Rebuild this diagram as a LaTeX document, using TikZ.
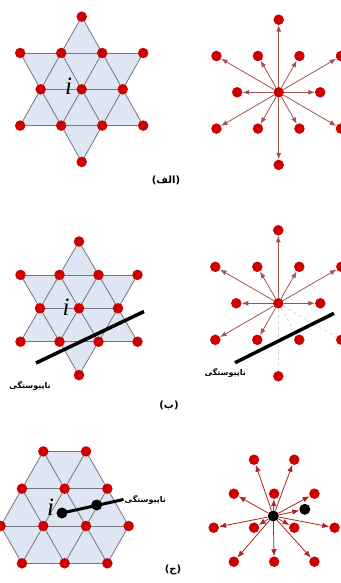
\documentclass[tikz,border=0pt]{standalone}
\usepackage{fontspec}
\usepackage{tikz}
\usetikzlibrary{arrows.meta, backgrounds, positioning}
\newfontfamily\farsi[Script=Arabic]{DejaVu Sans}
\newfontfamily\timesit{Liberation Serif}
\TeXXeTstate=1
\definecolor{sitered}{RGB}{204,0,0}
\definecolor{latfill}{RGB}{222,229,243}
\definecolor{latedge}{RGB}{118,118,128}
\definecolor{hopbrown}{RGB}{158,82,82}
\definecolor{hopred}{RGB}{172,38,38}

\begin{document}
\begin{tikzpicture}[x=1pt, y=-1pt,
    site/.style={circle, fill=sitered, inner sep=0pt, minimum size=10.5pt},
    bsite/.style={circle, fill=black, inner sep=0pt, minimum size=11pt},
    bond/.style={latedge, line width=0.8pt},
    hop/.style={-{Latex[length=6.5pt,width=5pt]}, hopbrown, line width=0.8pt},
    hopc/.style={-{Latex[length=7pt,width=5.5pt]}, hopred, line width=0.8pt},
    lost/.style={gray!35, dashed, line width=0.7pt},
    cut/.style={black, line width=3.5pt},
    siteidx/.style={inner sep=0pt, font=\timesit\itshape\fontsize{25}{25}\selectfont},
    cutlbl/.style={inner sep=1pt, font=\farsi\bfseries\fontsize{8}{9}\selectfont},
    panel/.style={font=\farsi\bfseries\fontsize{10}{12}\selectfont}]

    \useasboundingbox (0,0) rectangle (340,583);

    \foreach \p/\cx/\cy/\a/\h in {aL/81.7/89.3/41/36.3, bL/79/308.3/39/33.4, aR/278.7/92.3/41.5/36.3, bR/278.3/303.3/42/36.5}{
        \foreach \n/\u/\v in {t/0/-2, ul2/-1.5/-1, ul/-0.5/-1, ur/0.5/-1, ur2/1.5/-1, w/-1/0, c/0/0, e/1/0, ll2/-1.5/1, ll/-0.5/1, lr/0.5/1, lr2/1.5/1, b/0/2}
            \node[site] (\p-\n) at ({\cx+\a*(\u)}, {\cy+\h*(\v)}) {};
    }
    \foreach \p/\ox/\oy/\a/\h in {cL/43.3/526/42.7/37.3, cR/254/527.7/40.3/34}{
        \foreach \n/\u/\v in {A1/0/-2, A2/1/-2, B1/-0.5/-1, B2/0.5/-1, B3/1.5/-1, C1/-1/0, C2/0/0, C3/1/0, C4/2/0, D1/-0.5/1, D2/0.5/1, D3/1.5/1}
            \node[site] (\p-\n) at ({\ox+\a*(\u)}, {\oy+\h*(\v)}) {};
    }

    \begin{scope}[on background layer]
        \foreach \p in {aL, bL}{
            \fill[latfill] (\p-t.center) -- (\p-ll2.center) -- (\p-lr2.center) -- cycle;
            \fill[latfill] (\p-b.center) -- (\p-ul2.center) -- (\p-ur2.center) -- cycle;
            \foreach \s/\d in {t/ll2, t/lr2, b/ul2, b/ur2, ll2/lr2, ul2/ur2, w/e, ul/lr, ur/ll}
                \draw[bond] (\p-\s.center) -- (\p-\d.center);
        }
        \fill[latfill] (cL-A1.center) -- (cL-A2.center) -- (cL-C4.center) -- (cL-D3.center) -- (cL-D1.center) -- (cL-C1.center) -- cycle;
        \foreach \s/\d in {A1/A2, B1/B3, C1/C4, D1/D3, D1/A2, C1/A1, D2/B3, D3/C4, A1/D3, A2/C4, B1/D2, C1/D1}
            \draw[bond] (cL-\s.center) -- (cL-\d.center);
    \end{scope}

    \node[siteidx] (aL-idx) at (68.7,86.7) {i};
    \node[siteidx] (bL-idx) at (66.2,307.5) {i};
    \node[siteidx] (cL-idx) at (50.5,507) {i};

    \foreach \n in {t, ul2, ul, ur, ur2, w, e, ll2, ll, lr, lr2, b}
        \draw[hop] (aR-c) -- (aR-\n);
    \foreach \n in {t, ul2, ul, ur, ur2, w, e, ll2, ll}
        \draw[hop] (bR-c) -- (bR-\n);
    \foreach \n in {lr, lr2, b}
        \draw[lost] (bR-c) -- (bR-\n);

    \coordinate (bL-cut1) at (36,363);
    \coordinate (bL-cut2) at (144,311.5);
    \draw[cut] (bL-cut1) -- (bL-cut2);
    \node[cutlbl] (bL-lbl) at (30,385.5) {\beginR ناپیوستگی\endR};

    \coordinate (bR-cut1) at (235,362.7);
    \coordinate (bR-cut2) at (334,313.3);
    \draw[cut] (bR-cut1) -- (bR-cut2);
    \node[cutlbl] (bR-lbl) at (225.3,373) {\beginR ناپیوستگی\endR};

    \node[bsite] (cL-i) at (62,513) {};
    \node[bsite] (cL-j) at (96.7,505) {};
    \coordinate (cL-end) at (123.5,499.5);
    \draw[cut, line width=3pt] (cL-i.center) -- (cL-end);
    \node[cutlbl, right=0pt of cL-end] (cL-lbl) {\beginR ناپیوستگی\endR};

    \node[bsite] (cR-i) at (273.3,516) {};
    \node[bsite] (cR-j) at (304.8,509.3) {};
    \foreach \n in {A1, A2, B1, B2, B3, C1, C2, C3, C4, D1, D2, D3}
        \draw[hopc] (cR-i) -- (cR-\n);
    \draw[hopc] (cR-i) -- (cR-j);

    \node[panel] (capA) at (166,180) {\beginR(الف)\endR};
    \node[panel] (capB) at (169,405) {\beginR(ب)\endR};
    \node[panel] (capC) at (173,570) {\beginR(ج)\endR};
\end{tikzpicture}
\end{document}
